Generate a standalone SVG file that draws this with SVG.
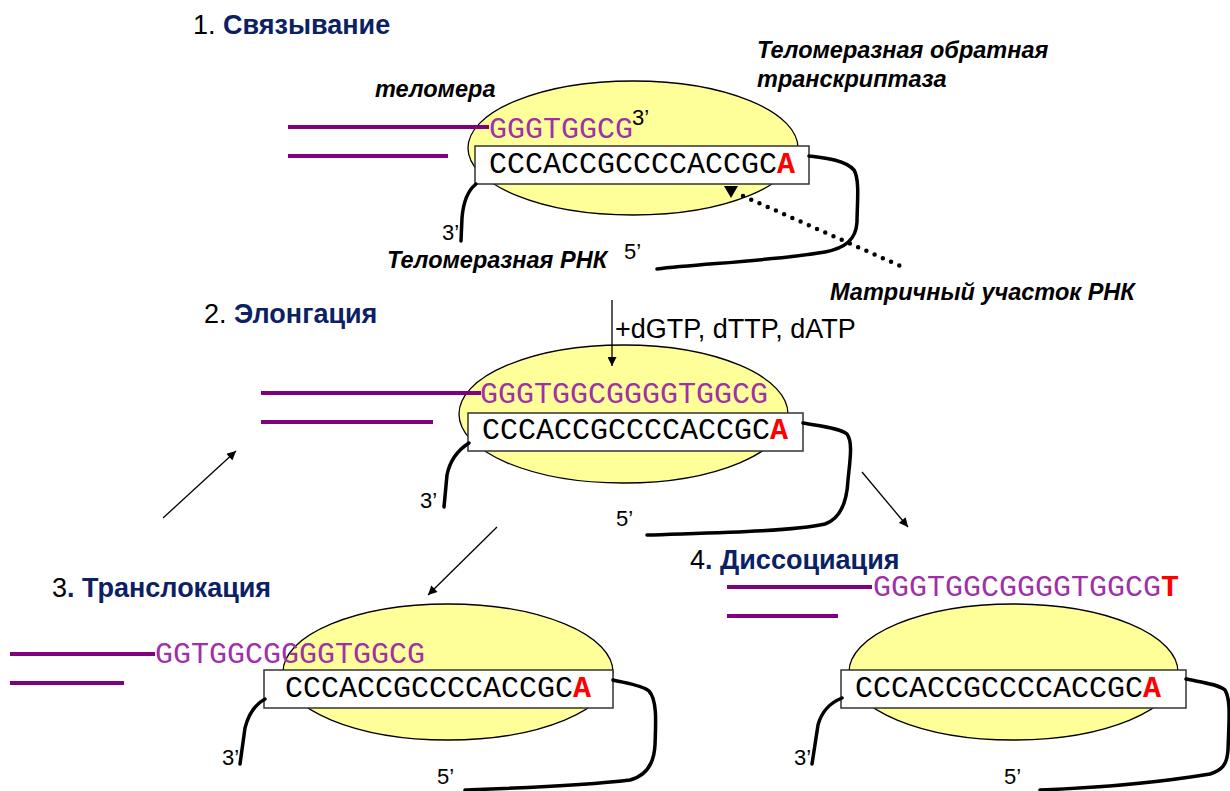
<svg xmlns="http://www.w3.org/2000/svg" width="1230" height="791" viewBox="0 0 1230 791">
<defs>
<marker id="ah" viewBox="0 0 10 10" refX="10" refY="5" markerWidth="10" markerHeight="9" markerUnits="userSpaceOnUse" orient="auto"><path d="M0,0 L10,5 L0,10 z" fill="#000"/></marker>
<style>
.ell{fill:#FFFF99;stroke:#000;stroke-width:1.3}
.box{fill:#fff;stroke:#333;stroke-width:1.5}
.mono{font-family:"Liberation Mono","DejaVu Sans Mono",monospace;font-size:30px}
.rna{fill:#000}
.tel{fill:#A030A8}
.red{fill:#FF0000;font-weight:bold}
.pl{stroke:#800080;stroke-width:4;fill:none}
.curve{stroke:#000;stroke-width:3.5;fill:none;stroke-linecap:round}
.title{font-family:"Liberation Sans",Arial,sans-serif;font-size:27px;fill:#000}
.tb{font-weight:bold;fill:#0B2163}
.lab{font-family:"Liberation Sans",Arial,sans-serif;font-size:23.5px;font-weight:bold;font-style:italic;fill:#000}
.nuc{font-family:"Liberation Sans",Arial,sans-serif;font-size:27px;fill:#000}
.end{font-family:"Liberation Sans",Arial,sans-serif;font-size:22px;fill:#000}
.arr{stroke:#000;stroke-width:1.3;fill:none}
</style>
</defs>

<g id="titles">
<text class="title" x="193" y="34">1. <tspan class="tb">Связывание</tspan></text>
<text class="title" x="204" y="323">2. <tspan class="tb">Элонгация</tspan></text>
<text class="title" x="52" y="597">3<tspan class="tb">. Транслокация</tspan></text>
<text class="title" x="690" y="569">4<tspan class="tb">. Диссоциация</tspan></text>
</g>

<g id="labels">
<text class="lab" x="757" y="58">Теломеразная обратная</text>
<text class="lab" x="757" y="87">транскриптаза</text>
<text class="lab" x="375" y="97">теломера</text>
<text class="lab" x="387" y="268">Теломеразная РНК</text>
<text class="lab" x="830" y="300">Матричный участок РНК</text>
<text class="nuc" x="615" y="338">+dGTP, dTTP, dATP</text>
</g>

<g id="panel1">
<ellipse class="ell" cx="633" cy="148" rx="165" ry="67"/>
<line class="pl" x1="288" y1="127" x2="489" y2="127"/>
<line class="pl" x1="288" y1="156" x2="448" y2="156"/>
<text class="mono tel" x="489" y="138">GGGTGGCG</text>
<text class="end" x="632" y="125">3’</text>
<rect class="box" x="475" y="146" width="334" height="38"/>
<text class="mono rna" x="489" y="173">CCCACCGCCCCACCGC<tspan class="red">A</tspan></text>
<path class="curve" d="M476,184 C466,192 463,205 462,218 L461,241"/>
<path class="curve" d="M809,156 C825,158 845,160 854,170 C860,180 857,205 857,222 C856,240 845,248 825,252 C780,260 700,264 657,269"/>
<path d="M724,186 L738,186 L731,198 z" fill="#000"/>
<line x1="743" y1="196" x2="905" y2="268" stroke="#000" stroke-width="4.5" stroke-linecap="round" stroke-dasharray="0 9"/>
<text class="end" x="442" y="240">3’</text>
<text class="end" x="624" y="259">5’</text>
</g>

<g id="panel2">
<ellipse class="ell" cx="623.5" cy="414" rx="164.5" ry="69"/>
<line class="pl" x1="261" y1="393" x2="481" y2="393"/>
<line class="pl" x1="261" y1="422" x2="433" y2="422"/>
<text class="mono tel" x="480" y="403">GGGTGGCGGGGTGGCG</text>
<rect class="box" x="468" y="413" width="335" height="38"/>
<text class="mono rna" x="482" y="439">CCCACCGCCCCACCGC<tspan class="red">A</tspan></text>
<path class="curve" d="M469,443 C458,450 450,460 447,475 L444,507"/>
<path class="curve" d="M803,423 C820,426 840,428 847,434 C853,442 850,460 848,480 C847,500 842,518 825,524 C790,532 700,533 647,535"/>
<text class="end" x="420" y="508">3’</text>
<text class="end" x="616" y="526">5’</text>
</g>

<g id="panel3">
<ellipse class="ell" cx="448" cy="672" rx="165" ry="68"/>
<line class="pl" x1="10" y1="654" x2="155" y2="654"/>
<line class="pl" x1="10" y1="683" x2="124" y2="683"/>
<text class="mono tel" x="155" y="663">GGTGGCGGGGTGGCG</text>
<rect class="box" x="264" y="670" width="349" height="38"/>
<text class="mono rna" x="285" y="697">CCCACCGCCCCACCGC<tspan class="red">A</tspan></text>
<path class="curve" d="M265,699 C256,704 249,712 245,728 L240,764"/>
<path class="curve" d="M613,680 C625,683 642,685 649,691 C657,700 656,720 655,745 C654,765 645,776 630,780 C580,786 520,788 465,790"/>
<text class="end" x="222" y="765">3’</text>
<text class="end" x="437" y="784">5’</text>
</g>

<g id="panel4">
<ellipse class="ell" cx="1013.5" cy="672" rx="164.5" ry="68"/>
<line class="pl" x1="727" y1="587" x2="872" y2="587"/>
<line class="pl" x1="727" y1="616" x2="838" y2="616"/>
<text class="mono tel" x="873" y="596">GGGTGGCGGGGTGGCG<tspan class="red">T</tspan></text>
<rect class="box" x="841" y="670" width="345" height="38"/>
<text class="mono rna" x="855" y="697">CCCACCGCCCCACCGC<tspan class="red">A</tspan></text>
<path class="curve" d="M842,698 C832,702 822,710 818,725 L812,764"/>
<path class="curve" d="M1186,679 C1200,682 1218,684 1225,690 C1231,700 1229,720 1228,750 C1227,765 1222,770 1210,774 C1150,784 1090,788 1040,790"/>
<text class="end" x="794" y="765">3’</text>
<text class="end" x="1004" y="784">5’</text>
</g>

<g id="connectors">
<line class="arr" x1="612" y1="300" x2="612" y2="366" marker-end="url(#ah)"/>
<line class="arr" x1="163" y1="518" x2="236" y2="451" marker-end="url(#ah)"/>
<line class="arr" x1="497" y1="527" x2="428" y2="595" marker-end="url(#ah)"/>
<line class="arr" x1="862" y1="472" x2="908" y2="527" marker-end="url(#ah)"/>
</g>
</svg>
